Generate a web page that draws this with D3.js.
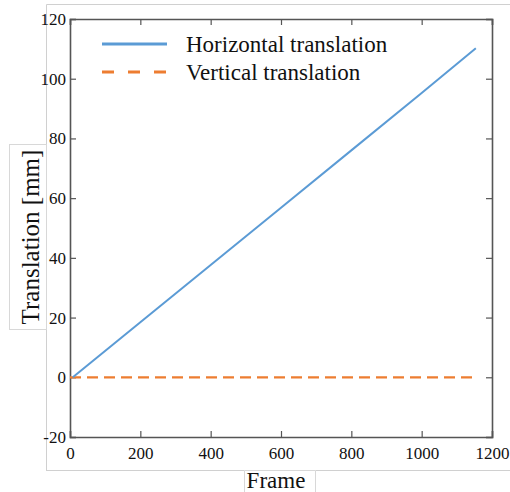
<!DOCTYPE html>
<html>
<head>
<meta charset="utf-8">
<script src="https://cdn.jsdelivr.net/npm/d3@7"></script>
<style>
  body { margin: 0; background: #fff; }
  svg { display: block; }
</style>
</head>
<body>
<div id="chart"></div>
<script>
// --- data ------------------------------------------------------
var frames     = [8, 200, 400, 600, 800, 1000, 1154]
var horizontal = [0, 18.4, 37.6, 56.8, 76.0, 95.2, 110.2]
var vertFrames = [0, 1154]
var vertical   = [0, 0]
var xTicks = [0, 200, 400, 600, 800, 1000, 1200]
var yTicks = [-20, 0, 20, 40, 60, 80, 100, 120]
var seriesNames = ['Horizontal translation', 'Vertical translation']

var width = 510,
    height = 492,
    plotL = 70, plotR = 492, plotT = 19, plotB = 437,
    font = 'Liberation Serif, Times New Roman, serif',
    axisColor = '#555',
    blue = '#5b9bd5',
    orange = '#ed7d31'

var svg = d3.select('#chart').append('svg')
  .attr('width', width)
  .attr('height', height)

var x = d3.scaleLinear().domain([0, 1200]).range([plotL, plotR])
var y = d3.scaleLinear().domain([-20, 120]).range([plotB, plotT])

// faint outer frame (pasted-figure look)
var frameG = svg.append('g').attr('fill', 'none').attr('stroke', '#d0d0d0').attr('stroke-width', 1)
frameG.append('path').attr('d', 'M46.5,471 V4.5 H510')
frameG.append('path').attr('d', 'M46.5,470.5 H244.5 M315.5,470.5 H510')

// white boxes behind axis titles
svg.append('rect')
  .attr('x', 9.5).attr('y', 144.5).attr('width', 37).attr('height', 185)
  .attr('fill', '#fff').attr('stroke', '#d8d8d8')
svg.append('path')
  .attr('d', 'M244.5,492 V470.5 H315.5 V492')
  .attr('fill', '#fff').attr('stroke', '#d8d8d8')

// axes: ticks inward, mirrored on top and right
var tickLen = 6,
    fmt = (d) => String(d)
var axG = svg.append('g')
axG.append('g')
  .attr('transform', `translate(0,${plotB})`)
  .call(d3.axisBottom(x).tickValues(xTicks).tickSize(-tickLen).tickPadding(10).tickFormat(fmt))
axG.append('g')
  .attr('transform', `translate(0,${plotT})`)
  .call(d3.axisTop(x).tickValues(xTicks).tickSize(-tickLen).tickFormat(''))
axG.append('g')
  .attr('transform', `translate(${plotL},0)`)
  .call(d3.axisLeft(y).tickValues(yTicks).tickSize(-tickLen).tickPadding(4).tickFormat(fmt))
axG.append('g')
  .attr('transform', `translate(${plotR},0)`)
  .call(d3.axisRight(y).tickValues(yTicks).tickSize(-tickLen).tickFormat(''))

axG.selectAll('g')
  .attr('font-family', font)
  .attr('font-size', 17)
axG.selectAll('.domain').attr('stroke', axisColor).attr('stroke-width', 1.6)
axG.selectAll('.tick line').attr('stroke', axisColor).attr('stroke-width', 1.2)
axG.selectAll('.tick text').attr('fill', '#111')

// series
var line = d3.line().x((d) => x(d[0])).y((d) => y(d[1]))

svg.append('path')
  .datum(d3.zip(vertFrames, vertical))
  .attr('d', line)
  .attr('fill', 'none')
  .attr('stroke', orange)
  .attr('stroke-width', 2.2)
  .attr('stroke-dasharray', '11,6')

svg.append('path')
  .datum(d3.zip(frames, horizontal))
  .attr('d', line)
  .attr('fill', 'none')
  .attr('stroke', blue)
  .attr('stroke-width', 2)

// legend
var legend = svg.append('g')
var legendRows = [
  { name: seriesNames[0], color: blue, dash: null, y: 44 },
  { name: seriesNames[1], color: orange, dash: '12,14', y: 72 }
]
legendRows.forEach((d) => {
  legend.append('line')
    .attr('x1', 102).attr('x2', 167)
    .attr('y1', d.y).attr('y2', d.y)
    .attr('stroke', d.color)
    .attr('stroke-width', 3)
    .attr('stroke-dasharray', d.dash)
  legend.append('text')
    .attr('x', 186).attr('y', d.y + 8)
    .attr('font-family', font)
    .attr('font-size', 23)
    .attr('fill', '#111')
    .text(d.name)
})

// axis titles
svg.append('text')
  .attr('transform', 'translate(39,237) rotate(-90)')
  .attr('text-anchor', 'middle')
  .attr('font-family', font)
  .attr('font-size', 25)
  .attr('fill', '#111')
  .text('Translation [mm]')

svg.append('text')
  .attr('x', 276).attr('y', 488)
  .attr('text-anchor', 'middle')
  .attr('font-family', font)
  .attr('font-size', 23)
  .attr('fill', '#111')
  .text('Frame')
</script>
</body>
</html>
